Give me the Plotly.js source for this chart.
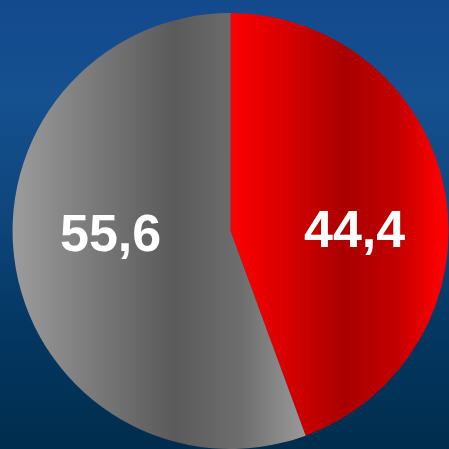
<!DOCTYPE html>
<html>
<head>
<meta charset="utf-8">
<script src="https://cdn.plot.ly/plotly-3.0.1.min.js"></script>
<style>
html,body{margin:0;padding:0;width:449px;height:449px;overflow:hidden;}
body{background: linear-gradient(to bottom, #134a8e 0%, #15508f 22%, #0e467c 48%, #043863 72%, #002d4d 100%);}
#chart{width:449px;height:449px;}
</style>
</head>
<body>
<div id="chart"></div>
<script>
var categories = ["A", "B"];
var values = [44.4, 55.6];
var valueLabels = ["44,4", "55,6"];

var gradients = [
  ["#ff0000", "#d80000", "#aa0000", "#c00000", "#ff0000"],
  ["#9c9c9c", "#777777", "#5a5a5a", "#6e6e6e", "#9a9a9a"]
];
var gradientStops = [
  [0, 0.25, 0.52, 0.75, 0.97],
  [0, 0.3, 0.55, 0.78, 1]
];

var trace = {
  type: "pie",
  labels: categories,
  values: values,
  textinfo: "none",
  sort: false,
  direction: "clockwise",
  rotation: 0,
  marker: {colors: ["#ff0000", "#777777"], line: {width: 0}},
  hoverinfo: "none",
  domain: {x: [0.027, 1], y: [0, 0.971]}
};

var labelPos = [[0.79, 0.49], [0.245, 0.482]];
var annotations = valueLabels.map(function(t, i){
  return {
    text: t, xref: "paper", yref: "paper",
    x: labelPos[i][0], y: labelPos[i][1],
    xanchor: "center", yanchor: "middle", showarrow: false,
    font: {family: "Liberation Sans, Arial, sans-serif", size: 52, color: "#ffffff", weight: "bold"}
  };
});

var layout = {
  width: 449, height: 449,
  margin: {l: 0, r: 0, t: 0, b: 0},
  paper_bgcolor: "rgba(0,0,0,0)",
  plot_bgcolor: "rgba(0,0,0,0)",
  showlegend: false,
  annotations: annotations
};

Plotly.newPlot("chart", [trace], layout, {staticPlot: true}).then(function(gd){
  var svg = gd.querySelector("svg.main-svg");
  var ns = "http://www.w3.org/2000/svg";
  var defs = svg.querySelector("defs") || svg.insertBefore(document.createElementNS(ns, "defs"), svg.firstChild);
  gradients.forEach(function(cols, i){
    var lg = document.createElementNS(ns, "linearGradient");
    lg.setAttribute("id", "slicegrad" + i);
    lg.setAttribute("x1", "0"); lg.setAttribute("y1", "0");
    lg.setAttribute("x2", "1"); lg.setAttribute("y2", "0");
    cols.forEach(function(c, j){
      var st = document.createElementNS(ns, "stop");
      st.setAttribute("offset", gradientStops[i][j]);
      st.setAttribute("stop-color", c);
      lg.appendChild(st);
    });
    defs.appendChild(lg);
  });
  var paths = gd.querySelectorAll("g.slice path.surface");
  paths.forEach(function(p, i){ p.style.fill = "url(#slicegrad" + i + ")"; });
});
</script>
</body>
</html>
